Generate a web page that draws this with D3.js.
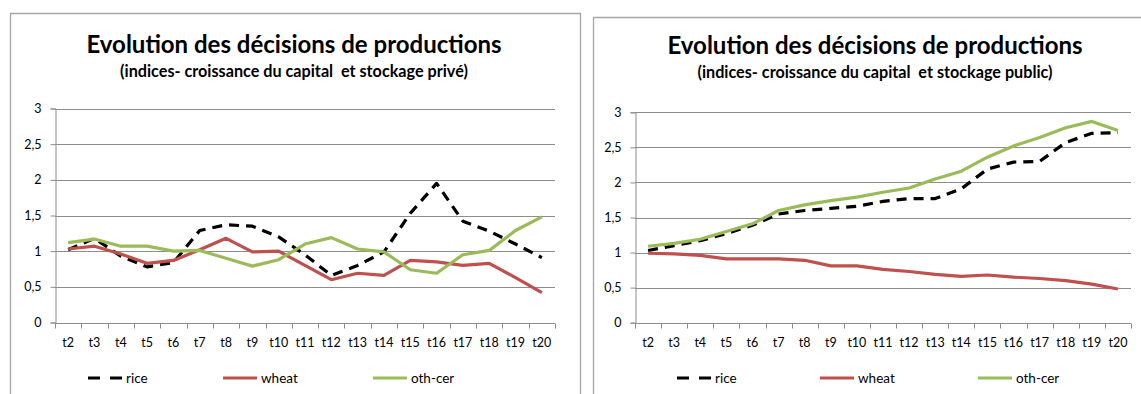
<!DOCTYPE html>
<html>
<head>
<meta charset="utf-8">
<script src="https://cdn.jsdelivr.net/npm/d3@7"></script>
<style>
  html, body { margin: 0; padding: 0; background: #ffffff; }
  svg { display: block; }
  text { font-family: Lato, "Open Sans", "Liberation Sans", sans-serif; fill: #000; white-space: pre; }
</style>
</head>
<body>
<svg id="chart" width="1141" height="394"></svg>
<script>
// Periods on the horizontal axis
const periods = ["t2","t3","t4","t5","t6","t7","t8","t9","t10","t11","t12","t13","t14","t15","t16","t17","t18","t19","t20"];
// Vertical axis ticks
const yTicks = [0, 0.5, 1, 1.5, 2, 2.5, 3];

// Private storage scenario
const ricePrive   = [1.02,1.18,0.93,0.78,0.84,1.29,1.37,1.35,1.20,0.95,0.66,0.80,0.99,1.53,1.95,1.42,1.28,1.10,0.91];
const wheatPrive  = [1.03,1.07,0.96,0.83,0.87,1.02,1.18,0.99,1.00,0.80,0.60,0.69,0.66,0.87,0.85,0.80,0.83,0.63,0.42];
const otherPrive  = [1.12,1.17,1.07,1.07,1.00,1.01,0.90,0.79,0.88,1.10,1.19,1.03,0.99,0.74,0.69,0.95,1.01,1.29,1.48];

// Public storage scenario
const ricePublic  = [1.03,1.10,1.17,1.27,1.39,1.55,1.60,1.63,1.66,1.73,1.77,1.77,1.91,2.19,2.29,2.30,2.57,2.70,2.71];
const wheatPublic = [0.99,0.98,0.96,0.91,0.91,0.91,0.89,0.81,0.81,0.76,0.73,0.69,0.66,0.68,0.65,0.63,0.60,0.55,0.48];
const otherPublic = [1.09,1.13,1.19,1.30,1.41,1.60,1.68,1.74,1.79,1.86,1.92,2.05,2.16,2.36,2.52,2.64,2.78,2.87,2.74];

const seriesNames = ["rice", "wheat", "oth-cer"];
const titleText = "Evolution des décisions de productions";
const subtitlePrive = "(indices- croissance du capital  et stockage privé)";
const subtitlePublic = "(indices- croissance du capital  et stockage public)";

const colors = { "rice": "#000000", "wheat": "#C0504D", "oth-cer": "#9BBB59" };
const dash = { "rice": "10,7", "wheat": null, "oth-cer": null };

const svg = d3.select("#chart");
const fmt = d => String(d).replace(".", ",");

function drawPanel(cfg) {
  const g = svg.append("g");

  // chart frame
  g.append("path")
    .attr("d", cfg.frame)
    .attr("fill", "none")
    .attr("stroke", "#A6A6A6")
    .attr("stroke-width", 1.3);

  const x = d3.scaleBand().domain(periods).range([cfg.x0, cfg.x1]);
  const y = d3.scaleLinear().domain([0, 3]).range([cfg.yBottom, cfg.yTop]);

  // title
  g.append("text")
    .attr("x", cfg.cx).attr("y", cfg.titleY)
    .attr("text-anchor", "middle")
    .style("font-weight", "bold").style("font-size", "24px")
    .text(titleText);
  g.append("text")
    .attr("x", cfg.cx).attr("y", cfg.subY)
    .attr("text-anchor", "middle")
    .style("font-weight", "bold").style("font-size", "16.2px")
    .text(cfg.subtitle);

  // horizontal gridlines
  g.append("g").selectAll("line")
    .data(yTicks.filter(t => t > 0))
    .join("line")
    .attr("x1", cfg.x0).attr("x2", cfg.x1)
    .attr("y1", d => Math.round(y(d)) + 0.5).attr("y2", d => Math.round(y(d)) + 0.5)
    .attr("stroke", "#8C8C8C").attr("stroke-width", 1);

  // y axis
  const yAxis = g.append("g")
    .attr("transform", `translate(${cfg.x0 + 0.5},0)`)
    .call(d3.axisLeft(y).tickValues(yTicks).tickFormat(fmt).tickSize(5).tickPadding(9));
  yAxis.select(".domain").attr("stroke", "#8C8C8C");
  yAxis.selectAll(".tick line").attr("stroke", "#8C8C8C");
  yAxis.selectAll("text").style("font-size", "12.5px").style("font-family", "Lato, sans-serif");

  // x axis with ticks on category boundaries
  const xAxis = g.append("g")
    .attr("transform", `translate(0,${Math.round(cfg.yBottom) + 0.5})`);
  xAxis.append("line")
    .attr("x1", cfg.x0).attr("x2", cfg.x1)
    .attr("stroke", "#8C8C8C");
  const bounds = periods.map(p => x(p)).concat([cfg.x1]);
  xAxis.selectAll("line.tk")
    .data(bounds)
    .join("line").attr("class", "tk")
    .attr("x1", d => Math.round(d) + 0.5).attr("x2", d => Math.round(d) + 0.5)
    .attr("y1", 0).attr("y2", 5)
    .attr("stroke", "#8C8C8C");
  xAxis.selectAll("text")
    .data(periods)
    .join("text")
    .attr("x", d => x(d) + x.bandwidth() / 2)
    .attr("y", 23)
    .attr("text-anchor", "middle")
    .style("font-size", "12.5px")
    .text(d => d);

  // series lines
  const line = d3.line()
    .x((d, i) => x(periods[i]) + x.bandwidth() / 2)
    .y(d => y(d));
  cfg.series.forEach((vals, k) => {
    const name = seriesNames[k];
    g.append("path")
      .datum(vals)
      .attr("d", line)
      .attr("fill", "none")
      .attr("stroke", colors[name])
      .attr("stroke-width", 3.2)
      .attr("stroke-linejoin", "round")
      .attr("stroke-dasharray", dash[name]);
  });

  // legend
  const leg = g.append("g");
  cfg.legendX.forEach((lx, k) => {
    const name = seriesNames[k];
    leg.append("line")
      .attr("x1", lx).attr("x2", lx + 34)
      .attr("y1", cfg.legendY).attr("y2", cfg.legendY)
      .attr("stroke", colors[name])
      .attr("stroke-width", 3.2)
      .attr("stroke-dasharray", name === "rice" ? "12,10" : null);
    leg.append("text")
      .attr("x", lx + 38).attr("y", cfg.legendY + 4.5)
      .style("font-size", "13.5px")
      .text(name);
  });
}

drawPanel({
  frame: "M10.5,394 V13.5 H580.5 V394",
  x0: 55, x1: 555, yTop: 108.5, yBottom: 322.5,
  cx: 294, titleY: 53, subY: 77,
  subtitle: subtitlePrive,
  series: [ricePrive, wheatPrive, otherPrive],
  legendX: [88, 223, 373], legendY: 378
});

drawPanel({
  frame: "M593.5,394 V17.5 H1141",
  x0: 635, x1: 1131, yTop: 112.3, yBottom: 322.7,
  cx: 875, titleY: 54, subY: 78,
  subtitle: subtitlePublic,
  series: [ricePublic, wheatPublic, otherPublic],
  legendX: [677, 820, 978], legendY: 378
});
</script>
</body>
</html>
